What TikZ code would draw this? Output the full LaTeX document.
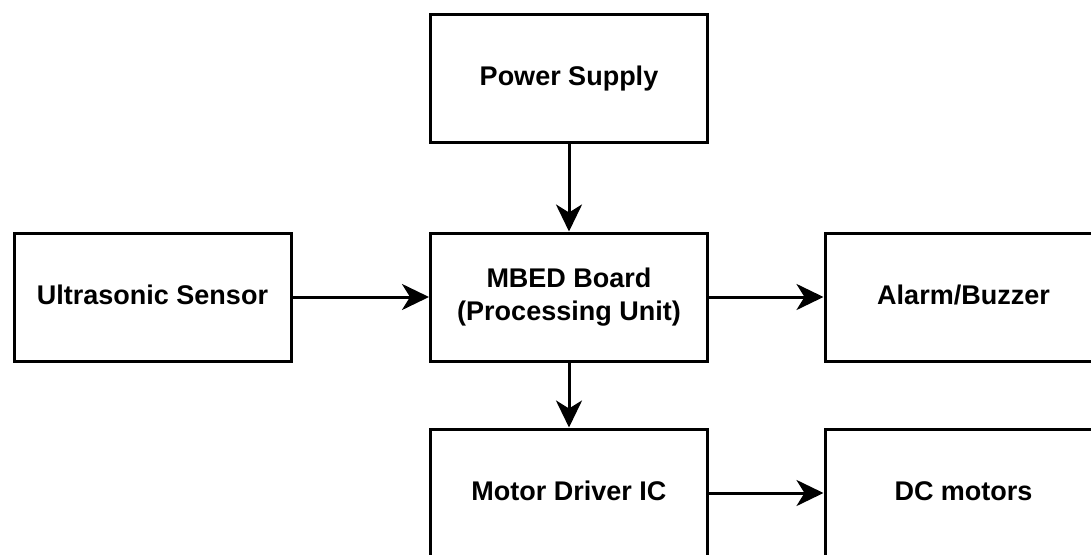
\documentclass[tikz,border=0pt]{standalone}
\usepackage{fontspec}
\setmainfont{Liberation Sans}
\usepackage{tikz}
\usetikzlibrary{arrows.meta}
\tikzset{block box/.style={draw=black, line width=3pt, fill=white,
           minimum width=277pt, minimum height=128pt, inner sep=0pt,
           align=center, font=\fontsize{27}{33}\selectfont\bfseries,
           text height=15pt, text depth=0pt},
     two lines/.style={text height=, text depth=},
     signal line/.style={draw=black, line width=3pt,
           -{Stealth[length=27pt, width=26pt, inset=8pt]}}
     }

\begin{document}
\begin{tikzpicture}[x=1pt, y=-1pt]
\useasboundingbox (0,0) rectangle (1091,554);
\node[block box] (power) at (569,78) {Power Supply};
\node[block box] (sensor) at (152.5,297) {Ultrasonic Sensor};
\node[block box, two lines] (mbed) at (569,297) {MBED Board\\(Processing Unit)};
\node[block box] (alarm) at (963.5,297) {Alarm/Buzzer};
\node[block box] (driver) at (569,493) {Motor Driver IC};
\node[block box] (motors) at (963.5,493) {DC motors};
\draw[signal line] (power) -- (mbed);
\draw[signal line] (sensor) -- (mbed);
\draw[signal line] (mbed) -- (alarm);
\draw[signal line] (mbed) -- (driver);
\draw[signal line] (driver) -- (motors);
\end{tikzpicture}
\end{document}
